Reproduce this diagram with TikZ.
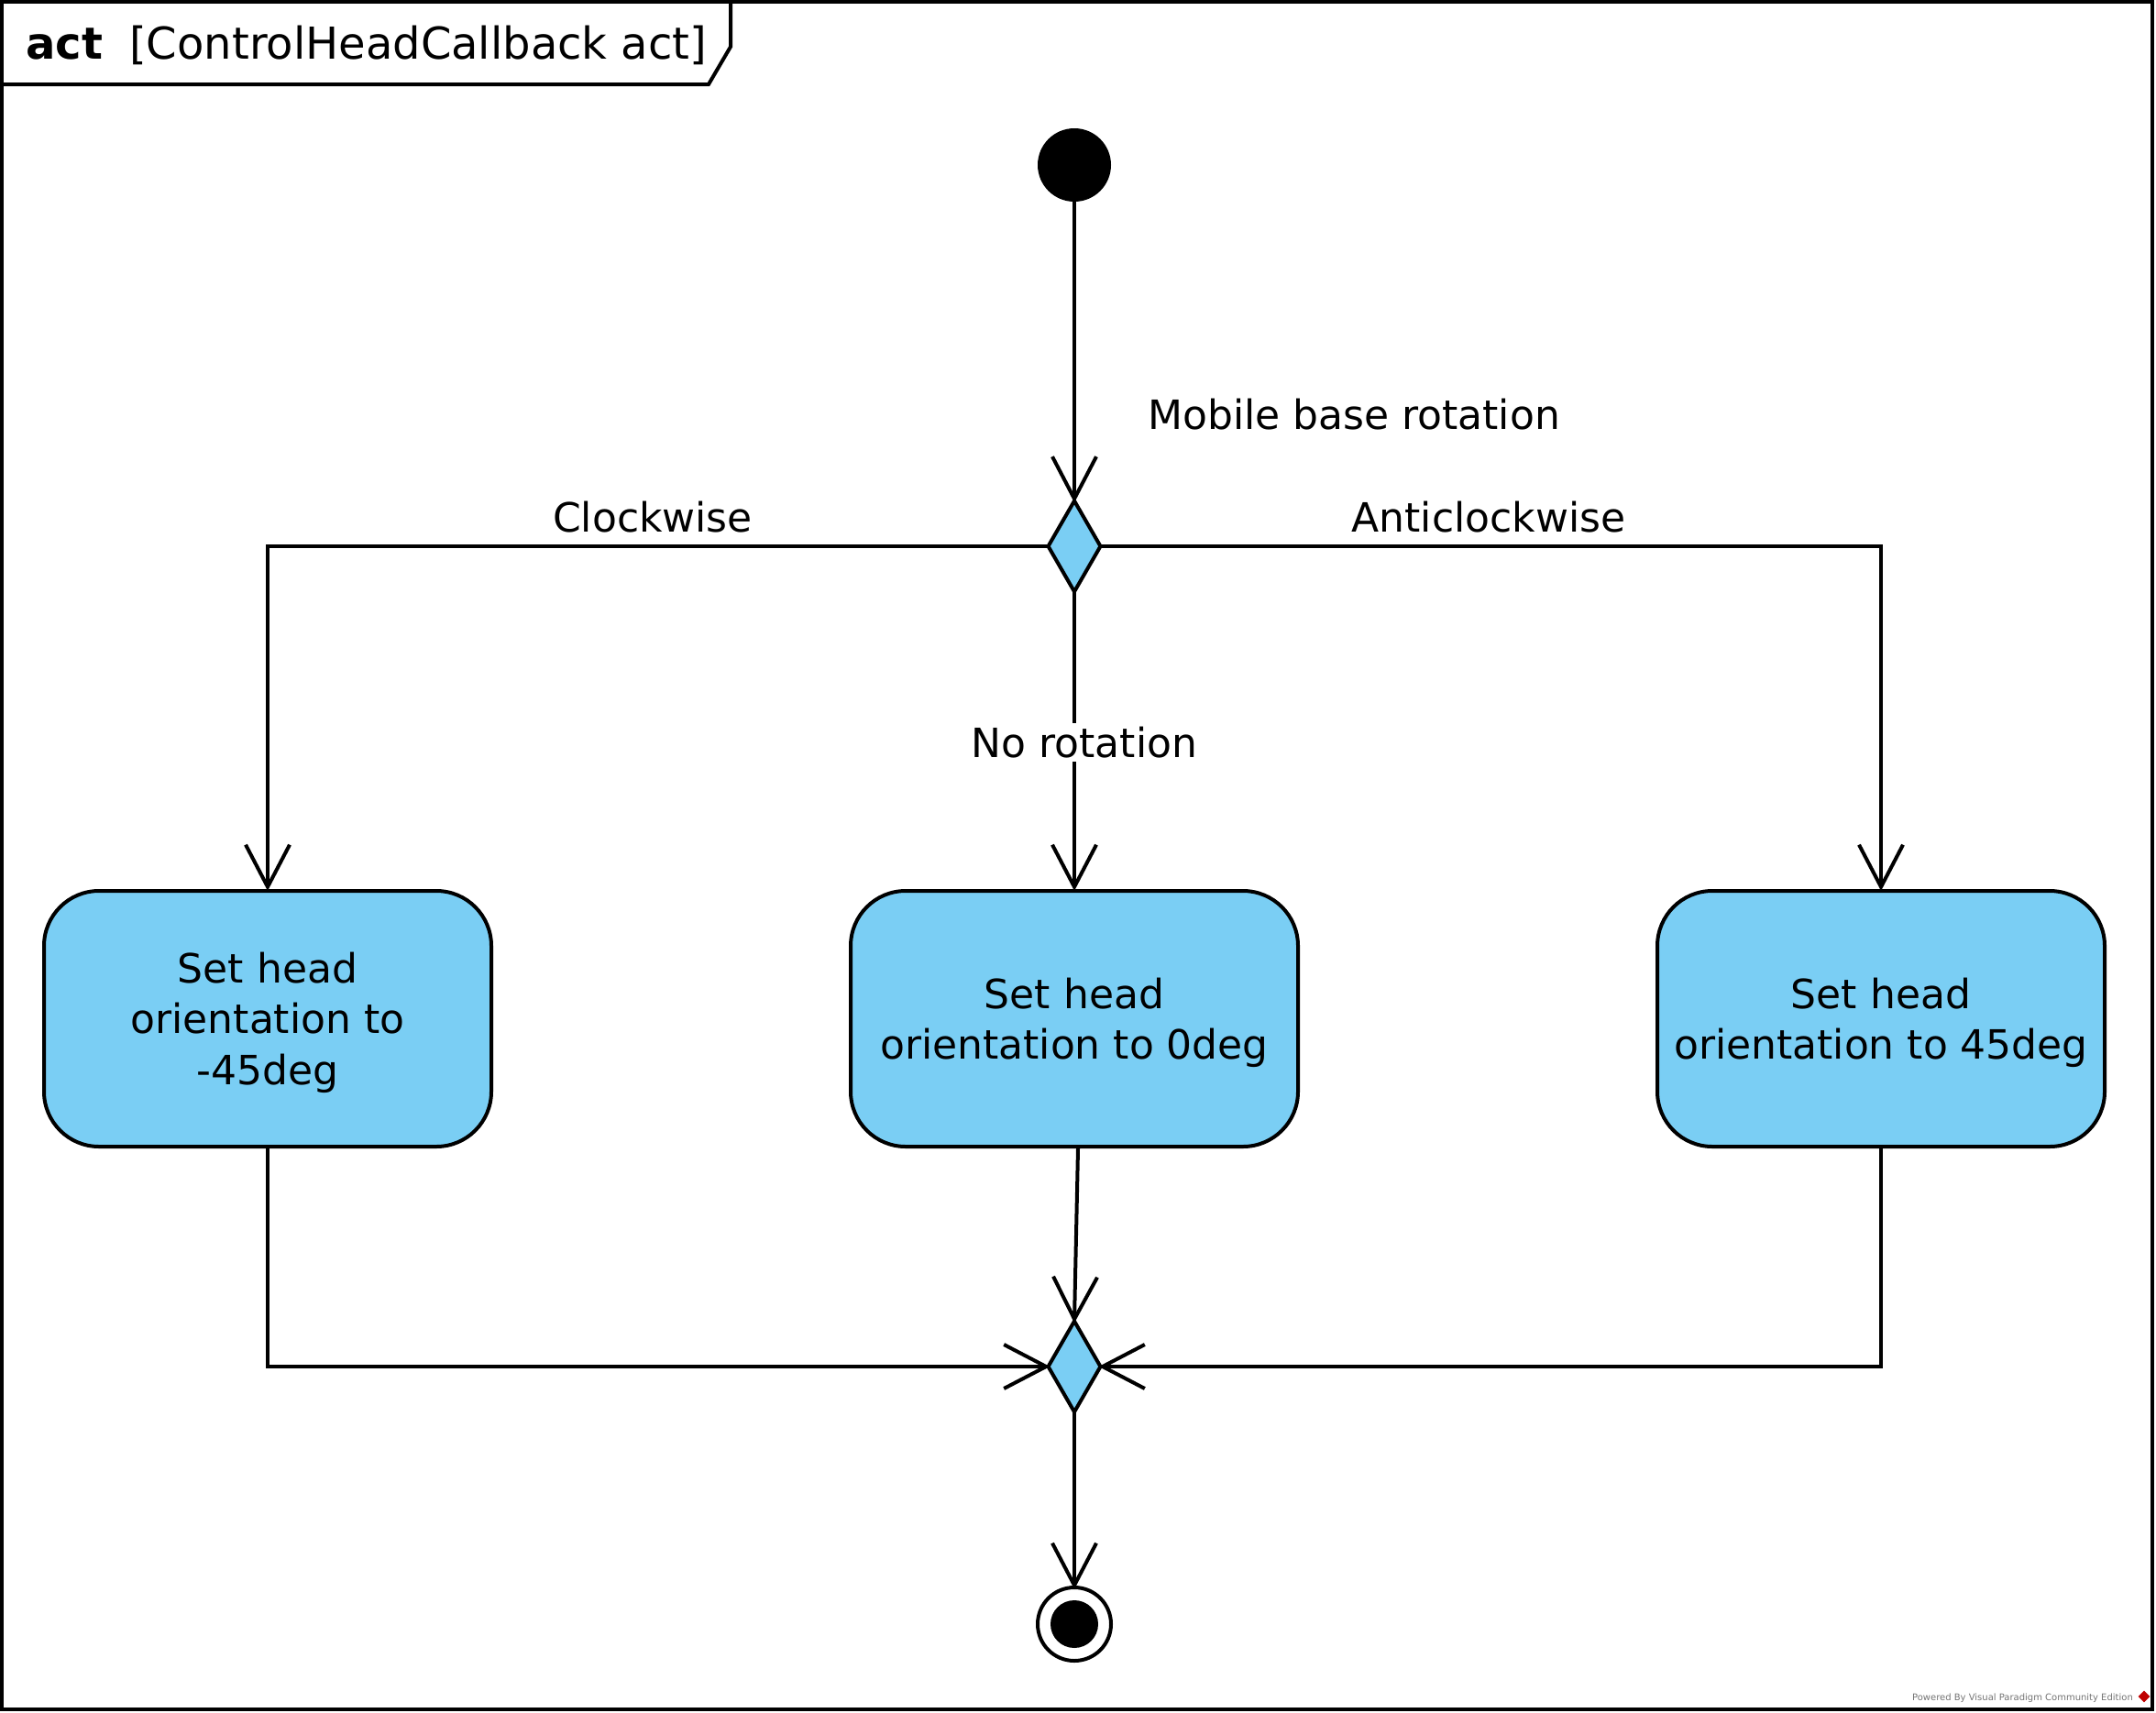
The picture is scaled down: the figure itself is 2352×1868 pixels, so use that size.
\documentclass[tikz,border=0pt]{standalone}
\usepackage{fontspec}
\setmainfont{DejaVu Sans}
\usetikzlibrary{arrows.meta,shapes.geometric}
\definecolor{actfill}{HTML}{7ACEF4}
\begin{document}
\begin{tikzpicture}[x=1pt,y=-1pt,
  ln/.style={line width=4pt,draw=black},
  arr/.style={ln,-{Straight Barb[length=46pt,width=48pt]},shorten >=-2pt},
  lbl/.style={font=\fontsize{44}{56}\selectfont,inner sep=0pt},
  act/.style={ln,fill=actfill,rounded corners=60pt,minimum width=488pt,minimum height=279pt,
    align=center,font=\fontsize{44}{55.5}\selectfont,inner sep=0pt},
  dec/.style={ln,fill=actfill,diamond,inner sep=0pt,outer sep=0pt,minimum width=57pt,minimum height=99pt},
]
\useasboundingbox (0,0) rectangle (2352,1868);
% frame
\draw[line width=4pt] (2,2) rectangle (2348,1865);
\draw[line width=4pt] (2,92) -- (773,92) -- (797,51) -- (797,2);
\node[anchor=base west,inner sep=0pt,font=\fontsize{48}{58}\selectfont\bfseries] (t1) at (28,65) {act};
\node[anchor=base west,inner sep=0pt,font=\fontsize{48}{58}\selectfont] (t2) at (141,65) {[ControlHeadCallback act]};
% nodes
\node[circle,fill=black,minimum size=80pt,inner sep=0pt] (init) at (1172,180) {};
\node[dec] (d1) at (1172,596) {};
\node[act] (lbox) at (292,1111.5) {\rule{0pt}{42pt}Set head\\orientation to\\-45deg};
\node[act] (mbox) at (1172,1111.5) {\rule{0pt}{42pt}Set head\\orientation to 0deg};
\node[act] (rbox) at (2052,1111.5) {\rule{0pt}{42pt}Set head\\orientation to 45deg};
\node[dec] (d2) at (1172,1491) {};
\node[circle,ln,fill=white,minimum size=80pt,inner sep=0pt,outer sep=0pt] (final) at (1172,1772) {};
\node[circle,fill=black,minimum size=52pt,inner sep=0pt] (finalin) at (1172,1772) {};
% connectors
\draw[arr] (init) -- (d1.north);
\draw[arr,line join=miter] (d1.west) -| (lbox.north);
\draw[arr,line join=miter] (d1.east) -| (rbox.north);
\draw[arr] (d1.south) -- (mbox.north);
\draw[arr,line join=miter] (lbox.south) |- (d2.west);
\draw[arr,line join=miter] (rbox.south) |- (d2.east);
\draw[arr] ([xshift=4pt]mbox.south) -- (d2.north);
\draw[arr] (d2.south) -- (final.north);
% labels
\node[lbl,anchor=base west] (lmob) at (1252,468) {Mobile base rotation};
\node[lbl,anchor=base] (lcw) at (712,580) {Clockwise};
\node[lbl,anchor=base] (lacw) at (1624,580) {Anticlockwise};
\node[lbl,anchor=base,fill=white,inner ysep=4pt] (lno) at (1183,826) {No rotation};
% watermark
\node[anchor=base east,inner sep=0pt,text=black!55,font=\fontsize{10}{12}\selectfont] (wm) at (2327,1855) {Powered By Visual Paradigm Community Edition};
\node[diamond,fill=red!75!black,minimum size=13pt,inner sep=0pt] (wmlogo) at (2339,1851) {};
\end{tikzpicture}
\end{document}
